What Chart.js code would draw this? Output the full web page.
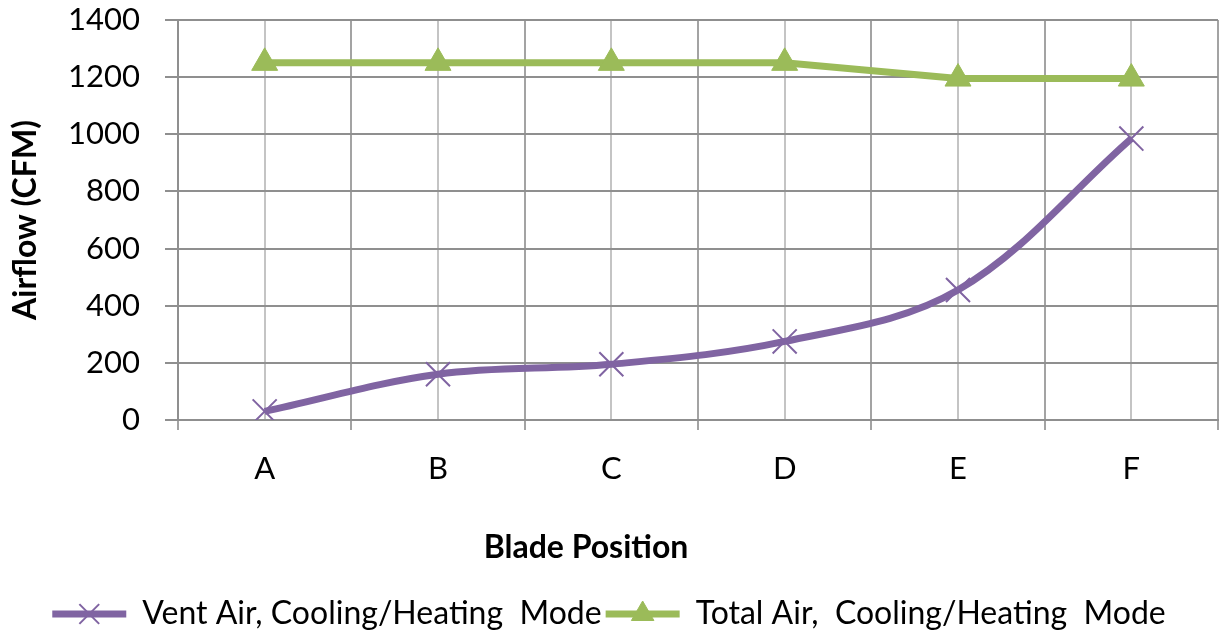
<!DOCTYPE html>
<html>
<head>
<meta charset="utf-8">
<script src="https://cdn.jsdelivr.net/npm/chart.js@4.4.0/dist/chart.umd.min.js"></script>
<style>
  html, body { margin: 0; padding: 0; background: #fff; overflow: hidden; }
  canvas { display: block; }
</style>
</head>
<body>
<canvas id="chart" width="1220" height="636"></canvas>
<script>
const positions = ["A", "B", "C", "D", "E", "F"];
const ventAir = [30, 160, 195, 275, 455, 985];
const totalAir = [1250, 1250, 1250, 1250, 1195, 1195];
const yMin = 0;
const yMax = 1400;
const yStep = 200;
const xTitle = "Blade Position";
const yTitle = "Airflow (CFM)";

const FONT = "Lato, 'Open Sans', sans-serif";
const PURPLE = "#8064a2";
const GREEN = "#9bbb59";

// legend markers on the line boxes, and the x title, which in the original
// sits left of the plot centre
const extras = {
  id: "extras",
  afterDraw(chart) {
    const ctx = chart.ctx;
    const legend = chart.legend;
    if (legend && legend.legendHitBoxes) {
      legend.legendHitBoxes.forEach((box, i) => {
        const ds = chart.data.datasets[i];
        const cx = box.left + legend.options.labels.boxWidth / 2;
        const cy = box.top + box.height / 2;
        ctx.save();
        ctx.fillStyle = ds.pointBackgroundColor;
        ctx.strokeStyle = ds.pointBorderColor;
        ctx.lineWidth = ds.pointBorderWidth;
        Chart.helpers.drawPoint(ctx, { pointStyle: ds.pointStyle, radius: ds.legendRadius, rotation: 0, borderWidth: ds.pointBorderWidth }, cx, cy);
        ctx.restore();
      });
    }
    const xs = chart.scales.x;
    ctx.save();
    ctx.font = `bold 32px ${FONT}`;
    ctx.fillStyle = "#000";
    ctx.textAlign = "center";
    ctx.textBaseline = "middle";
    ctx.fillText(xTitle, chart.width / 2 - 24, xs.top + 128);
    ctx.restore();
  },
};

// keep the plot area where the original had it
function noPad(scale) {
  scale.paddingTop = 0;
  scale.paddingBottom = 0;
  scale.paddingLeft = 0;
  scale.paddingRight = 0;
}

new Chart(document.getElementById("chart"), {
  type: "line",
  data: {
    labels: positions,
    datasets: [
      {
        label: "Vent Air, Cooling/Heating  Mode",
        data: ventAir,
        borderColor: PURPLE,
        backgroundColor: PURPLE,
        borderWidth: 7,
        tension: 0.35,
        pointStyle: "crossRot",
        pointRadius: 17,
        legendRadius: 14,
        pointBorderWidth: 2,
        pointBorderColor: PURPLE,
        pointBackgroundColor: PURPLE,
        xAxisID: "x",
      },
      {
        label: "Total Air,  Cooling/Heating  Mode",
        data: totalAir,
        borderColor: GREEN,
        backgroundColor: GREEN,
        borderWidth: 7,
        tension: 0,
        pointStyle: "triangle",
        pointRadius: 15,
        legendRadius: 13,
        pointBorderWidth: 1,
        pointBorderColor: GREEN,
        pointBackgroundColor: GREEN,
        xAxisID: "x",
      },
    ],
  },
  options: {
    responsive: false,
    animation: false,
    layout: { autoPadding: false, padding: { top: 20, right: 2, left: 0, bottom: -4 } },
    plugins: {
      tooltip: { enabled: false },
      legend: {
        position: "bottom",
        labels: {
          boxWidth: 74,
          boxHeight: 7,
          padding: 4,
          color: "#000",
          font: { family: FONT, size: 32 },
          generateLabels(chart) {
            return chart.data.datasets.map((ds, i) => ({
              text: ds.label,
              fillStyle: ds.borderColor,
              strokeStyle: ds.borderColor,
              lineWidth: 0,
              datasetIndex: i,
            }));
          },
        },
      },
    },
    scales: {
      x: {
        type: "category",
        offset: true,
        grid: { offset: true, color: "#a3a3a3", lineWidth: 2, tickLength: 10 },
        border: { color: "#8f8f8f", width: 2 },
        ticks: { color: "#000", padding: 20, font: { family: FONT, size: 31 } },
        afterFit(scale) { scale.height = 174; noPad(scale); },
      },
      xc: {
        type: "category",
        position: "bottom",
        labels: positions,
        offset: true,
        grid: { offset: false, color: "#c4c4c4", lineWidth: 2, drawTicks: false },
        border: { display: false },
        ticks: { display: false },
        afterFit(scale) { scale.height = 0; noPad(scale); },
      },
      y: {
        min: yMin,
        max: yMax,
        ticks: {
          stepSize: yStep,
          color: "#000",
          padding: 25,
          font: { family: FONT, size: 31 },
          callback: (v) => String(v),
        },
        grid: { color: "#8f8f8f", lineWidth: 2, tickLength: 13 },
        border: { color: "#8f8f8f", width: 2 },
        title: {
          display: true,
          text: yTitle,
          color: "#000",
          font: { family: FONT, size: 32, weight: "bold" },
          padding: { top: 6, bottom: 0 },
        },
        afterFit(scale) { scale.width = 178; noPad(scale); },
      },
    },
  },
  plugins: [extras],
});
</script>
</body>
</html>
